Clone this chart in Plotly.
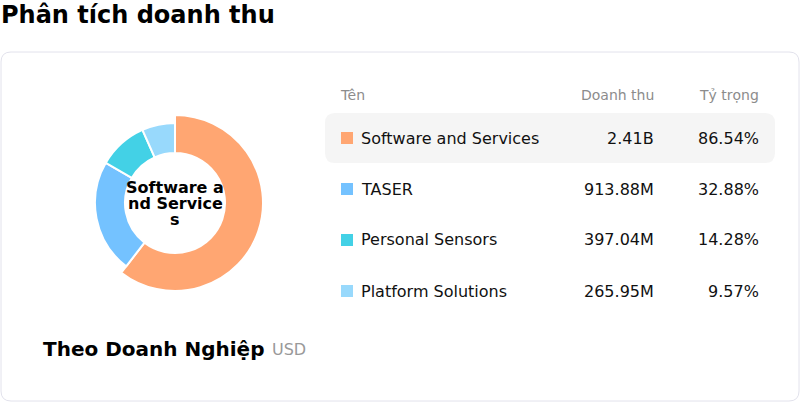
import plotly.graph_objects as go

# data
categories = ["Software and Services", "TASER", "Personal Sensors", "Platform Solutions"]
revenue = [2.41e9, 913.88e6, 397.04e6, 265.95e6]
revenue_labels = ["2.41B", "913.88M", "397.04M", "265.95M"]
share_labels = ["86.54%", "32.88%", "14.28%", "9.57%"]
colors = ["#FFA672", "#74C2FF", "#43D1E6", "#98D9FC"]
selected = 0  # highlighted segment

W, H = 800, 402
FONT = "DejaVu Sans"
CX, CY = 175, 203          # donut centre in px
R_BIG, R_SMALL, R_HOLE = 88, 80, 50


def px_x(x):
    return x / W


def px_y(y):
    return 1 - y / H


def wrap(s, n=10):
    return [s[i:i + n] for i in range(0, len(s), n)]


def rounded_rect(x0, y0, x1, y1, r):
    # pixel coords -> paper path
    pts = [
        f"M {px_x(x0 + r)},{px_y(y0)}",
        f"L {px_x(x1 - r)},{px_y(y0)}",
        f"Q {px_x(x1)},{px_y(y0)} {px_x(x1)},{px_y(y0 + r)}",
        f"L {px_x(x1)},{px_y(y1 - r)}",
        f"Q {px_x(x1)},{px_y(y1)} {px_x(x1 - r)},{px_y(y1)}",
        f"L {px_x(x0 + r)},{px_y(y1)}",
        f"Q {px_x(x0)},{px_y(y1)} {px_x(x0)},{px_y(y1 - r)}",
        f"L {px_x(x0)},{px_y(y0 + r)}",
        f"Q {px_x(x0)},{px_y(y0)} {px_x(x0 + r)},{px_y(y0)}",
        "Z",
    ]
    return " ".join(pts)


def donut(radius, show_selected):
    cols, widths = [], []
    for i, c in enumerate(colors):
        on = (i == selected) == show_selected
        cols.append(c if on else "rgba(0,0,0,0)")
        widths.append(2 if on else 0)
    return go.Pie(
        labels=categories,
        values=revenue,
        hole=R_HOLE / radius,
        sort=False,
        direction="clockwise",
        rotation=0,
        marker=dict(colors=cols, line=dict(color="white", width=widths)),
        textinfo="none",
        hoverinfo="label+value",
        showlegend=False,
        domain=dict(x=[px_x(CX - radius), px_x(CX + radius)],
                    y=[px_y(CY + radius), px_y(CY - radius)]),
    )


fig = go.Figure()
fig.add_trace(donut(R_BIG, True))
fig.add_trace(donut(R_SMALL, False))

shapes = []
shapes.append(dict(type="path", xref="paper", yref="paper", layer="below",
                   path=rounded_rect(1, 52, 799, 401, 10),
                   line=dict(color="#E2E2EC", width=1), fillcolor="white"))
shapes.append(dict(type="path", xref="paper", yref="paper", layer="below",
                   path=rounded_rect(325, 113, 775, 163, 10),
                   line=dict(width=0), fillcolor="#F5F5F5"))

annotations = [
    dict(text="<b>Phân tích doanh thu</b>", x=px_x(-1), y=px_y(15), xanchor="left", yanchor="middle",
         font=dict(size=24, color="#000")),
    dict(text="<b>Theo Doanh Nghiệp</b>", x=px_x(41), y=px_y(349), xanchor="left", yanchor="middle",
         font=dict(size=20, color="#000")),
    dict(text="USD", x=px_x(270), y=px_y(349), xanchor="left", yanchor="middle",
         font=dict(size=16, color="#999")),
    dict(text="Tên", x=px_x(338), y=px_y(95), xanchor="left", yanchor="middle",
         font=dict(size=14, color="#8C8C8C")),
    dict(text="Doanh thu", x=px_x(656), y=px_y(95), xanchor="right", yanchor="middle",
         font=dict(size=14, color="#8C8C8C")),
    dict(text="Tỷ trọng", x=px_x(761), y=px_y(95), xanchor="right", yanchor="middle",
         font=dict(size=14, color="#8C8C8C")),
]

# centre label, one line at a time to keep tight spacing
center_lines = wrap(categories[selected])
for k, line in enumerate(center_lines):
    yc = CY - (len(center_lines) - 1) * 16 / 2 + k * 16
    annotations.append(dict(text="<b>" + line + "</b>", x=px_x(CX), y=px_y(yc),
                            xanchor="center", yanchor="middle", height=16, borderpad=0,
                            font=dict(size=16, color="#000")))

for i, name in enumerate(categories):
    yc = 138 + i * 51
    shapes.append(dict(type="rect", xref="paper", yref="paper",
                       x0=px_x(341), x1=px_x(353), y0=px_y(yc - 6), y1=px_y(yc + 6),
                       line=dict(width=0), fillcolor=colors[i]))
    annotations.append(dict(text=name, x=px_x(359), y=px_y(yc), xanchor="left", yanchor="middle",
                            font=dict(size=16, color="#111")))
    annotations.append(dict(text=revenue_labels[i], x=px_x(656), y=px_y(yc), xanchor="right",
                            yanchor="middle", font=dict(size=16, color="#111")))
    annotations.append(dict(text=share_labels[i], x=px_x(761), y=px_y(yc), xanchor="right",
                            yanchor="middle", font=dict(size=16, color="#111")))

for a in annotations:
    a.update(xref="paper", yref="paper", showarrow=False)

fig.update_layout(
    width=W, height=H,
    margin=dict(l=0, r=0, t=0, b=0),
    paper_bgcolor="white",
    plot_bgcolor="white",
    font=dict(family=FONT),
    shapes=shapes,
    annotations=annotations,
)

fig.write_html("out.html", config={"displayModeBar": False},
               post_script="document.body.style.margin='0';")
